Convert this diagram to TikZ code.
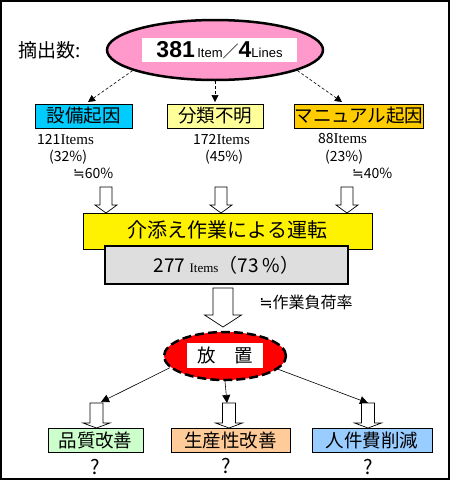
\documentclass[tikz,border=0pt]{standalone}
\usepackage{fontspec}
\setmainfont{Liberation Serif}
\newfontfamily\jp{Noto Sans CJK JP}
\newfontfamily\hv{Liberation Sans}
\newfontfamily\dv{DejaVu Sans}
\usetikzlibrary{arrows.meta}
\usetikzlibrary{shapes.geometric}

\definecolor{pinkfill}{HTML}{FF99CC}
\definecolor{cyanfill}{HTML}{00CCFF}
\definecolor{paleyellow}{HTML}{FFFF99}
\definecolor{goldfill}{HTML}{FFCC00}
\definecolor{grayfill}{HTML}{DEDEDE}
\definecolor{greenfill}{HTML}{CCFFCC}
\definecolor{peachfill}{HTML}{FFCC99}
\definecolor{bluefill}{HTML}{99CCFF}

% x, top, length, half shaft, half head, head length
\newcommand{\hollowdown}[6]{%
  \draw[fill=white,line width=0.7pt] ({#1-#4},#2) -- ({#1+#4},#2) -- ({#1+#4},{#2+#3-#6})
    -- ({#1+#5},{#2+#3-#6}) -- (#1,{#2+#3}) -- ({#1-#5},{#2+#3-#6}) -- ({#1-#4},{#2+#3-#6}) -- cycle;}
\newcommand{\approxeq}{{\dv ≒}}

\tikzset{
  catbox/.style={draw, line width=0.7pt, inner sep=0pt, minimum height=24pt,
    font=\jp\fontsize{18.5}{18.5}\selectfont},
  note/.style={inner sep=0pt, anchor=west, font=\jp\fontsize{14}{14}\selectfont},
  link/.style={densely dashed, line width=0.6pt, -{Triangle[length=7pt,width=7pt]}},
  solidlink/.style={line width=0.6pt, -{Triangle[length=8pt,width=8pt]}},
  ask/.style={font=\jp\fontsize{20}{20}\selectfont},
}

\begin{document}
\begin{tikzpicture}[x=1pt,y=-1pt]
\useasboundingbox (0,0) rectangle (450,480);
\draw[line width=2pt] (1,1) rectangle (449,479);

% extracted total
\node[font=\jp\fontsize{19}{19}\selectfont] (lead) at (50,50) {摘出数:};
\node[ellipse, draw, line width=2.5pt, fill=pinkfill, minimum width=216pt, minimum height=60pt] (top) at (215,50) {};
\node[fill=white, minimum width=155pt, minimum height=24pt, inner sep=0pt] (topin) at (219.5,50)
  {{\hv\bfseries\fontsize{23}{23}\selectfont 381} {\hv\fontsize{13}{13}\selectfont Item}{\jp\fontsize{16}{16}\selectfont ／}{\hv\bfseries\fontsize{23}{23}\selectfont 4}{\hv\fontsize{13}{13}\selectfont Lines}};

% three causes
\node[catbox, fill=cyanfill, minimum width=97pt] (c1) at (83.5,116) {設備起因};
\node[catbox, fill=paleyellow, minimum width=96pt] (c2) at (215,116) {分類不明};
\node[catbox, fill=goldfill, minimum width=120pt] (c3) at (359,116) {マニュアル起因};

\coordinate (t1) at (88,102);
\coordinate (t2) at (215,102);
\coordinate (t3) at (342,102);
\draw[link] (top.194) -- (t1);
\draw[link] (top.south) -- (t2);
\draw[link] (top.346) -- (t3);

\node[note] (n1) at (37,139) {121{\rmfamily\fontsize{15}{15}\selectfont Items}};
\node[note] (p1) at (49,157) {(32\%)};
\node[note] (e1) at (73,173) {\approxeq 60\%};
\node[note] (n2) at (193,139) {172{\rmfamily\fontsize{15}{15}\selectfont Items}};
\node[note] (p2) at (205,157) {(45\%)};
\node[note] (n3) at (318,139) {88{\rmfamily\fontsize{15}{15}\selectfont Items}};
\node[note] (p3) at (325,157) {(23\%)};
\node[note] (e3) at (352,173) {\approxeq 40\%};

\hollowdown{106}{187}{26}{6}{11}{8}
\hollowdown{221}{187}{26}{6}{11}{8}
\hollowdown{347}{187}{26}{6}{11}{8}

% assisted operation
\node[draw, line width=0.7pt, fill=yellow, minimum width=289pt, minimum height=36pt, inner sep=0pt,
  font=\jp\fontsize{20}{20}\selectfont] (assist) at (227.5,231) {\raisebox{3pt}{介添え作業による運転}};
\node[draw, line width=2.5pt, fill=grayfill, minimum width=243pt, minimum height=38pt, inner sep=0pt,
  font=\jp\fontsize{19}{19}\selectfont] (total) at (226.5,265) {277 {\rmfamily\fontsize{13}{13}\selectfont Items}（73 \%）};

\hollowdown{223}{288}{39}{10}{18.5}{12}
\node[font=\jp\fontsize{16}{16}\selectfont] (load) at (306,302) {\approxeq 作業負荷率};

% left as is
\node[ellipse, draw, line width=2.5pt, dash pattern=on 9pt off 4pt, fill=red, minimum width=122pt, minimum height=48pt] (hold) at (225,356) {};
\node[fill=white, minimum width=76pt, minimum height=25pt, inner sep=0pt,
  font=\jp\fontsize{18.5}{18.5}\selectfont] (holdin) at (225,355.5) {放\hspace{1em}置};

\coordinate (s1) at (101,402);
\coordinate (s2) at (227,403);
\coordinate (s3) at (368,403);
\draw[solidlink] (hold.192) -- (s1);
\draw[solidlink] (hold.south) -- (s2);
\draw[solidlink] (hold.346) -- (s3);

\hollowdown{96.5}{403}{25}{6.5}{13.5}{5}
\hollowdown{229}{403}{25}{6.5}{13.5}{5}
\hollowdown{368}{403}{25}{6.5}{13.5}{5}

% outcomes
\node[catbox, fill=greenfill, minimum width=95pt] (r1) at (95.5,440) {品質改善};
\node[catbox, fill=peachfill, minimum width=119pt] (r2) at (230.5,440) {生産性改善};
\node[catbox, fill=bluefill, minimum width=120pt] (r3) at (372,440) {人件費削減};

\node[ask] (q1) at (95,467) {?};
\node[ask] (q2) at (226,466) {?};
\node[ask] (q3) at (368,467) {?};
\end{tikzpicture}
\end{document}
